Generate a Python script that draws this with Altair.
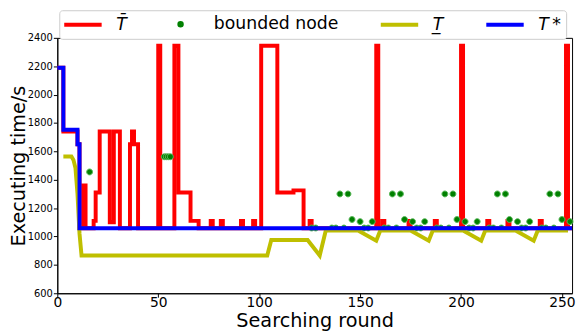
import altair as alt
import pandas as pd

# ---------------- data ----------------
series_names = ["T\u0304", "bounded node", "T\u0332", "T\u2009*"]
series_colors = ["#ff0000", "#008000", "#bfbf00", "#0000ff"]

# upper bound T-bar (value holds until the next listed round)
red_round = [0, 3, 10, 11, 13, 14, 18, 19, 21, 26, 28, 31, 36, 37, 38, 40, 50, 51, 58, 60,
             66, 70, 76, 77, 81, 82, 91, 92, 97, 98, 101, 109, 117, 122, 125, 126, 158, 159, 161, 162,
             174, 175, 187, 188, 200, 201, 213, 214, 223, 224, 239, 240, 252, 253, 255]
red_time = [2190, 1740, 1650, 1058, 1360, 1058, 1110, 1310, 1740, 1100, 1740, 1058, 1650, 1740, 1650, 1058, 2345, 1058, 2345, 1310,
            1110, 1058, 1110, 1058, 1110, 1058, 1110, 1058, 1110, 1058, 2345, 1310, 1325, 1058, 1110, 1058, 2345, 1058, 1110, 1058,
            1110, 1058, 1110, 1058, 2345, 1058, 1110, 1058, 1110, 1058, 1110, 1058, 2345, 1058, 1058]

# best found T* (value holds until the next listed round)
blue_round = [0, 3, 10, 11, 255]
blue_time = [2190, 1752, 1650, 1058, 1058]

# lower bound T-underline
yellow_round = [3, 7, 8, 9, 10, 11, 12, 104, 106, 124, 130, 133, 149, 158, 160,
                175, 184, 186, 201, 210, 212, 227, 236, 238, 253]
yellow_time = [1564, 1564, 1540, 1483, 1300, 1020, 866, 866, 975, 975, 866, 1042, 1042, 970, 1042,
               1042, 970, 1042, 1042, 970, 1042, 1042, 970, 1042, 1042]

# bounded nodes
bn_round = [16, 53, 54, 55, 56,
            126, 128, 136, 138, 140, 142, 144, 146, 150, 152, 154, 156,
            162, 164, 166, 168, 170, 172, 176, 178, 180, 182,
            188, 190, 192, 194, 196, 198, 202, 204, 206, 208,
            214, 216, 218, 220, 222, 224, 228, 230, 232, 234,
            240, 242, 244, 246, 248, 250, 254]
bn_time = [1455, 1562, 1562, 1562, 1562,
           1060, 1060, 1060, 1060, 1300, 1060, 1300, 1120, 1105, 1060, 1060, 1105,
           1060, 1060, 1300, 1060, 1300, 1120, 1105, 1060, 1060, 1105,
           1060, 1060, 1300, 1060, 1300, 1120, 1105, 1060, 1060, 1105,
           1060, 1060, 1300, 1060, 1300, 1120, 1105, 1060, 1060, 1105,
           1060, 1060, 1300, 1060, 1300, 1120, 1105]

x_ticks = [0, 50, 100, 150, 200, 250]
y_ticks = [600, 800, 1000, 1200, 1400, 1600, 1800, 2000, 2200, 2400]

# ---------------- tables ----------------
red_df = pd.DataFrame({"round": red_round, "time": red_time, "series": series_names[0]})
bn_df = pd.DataFrame({"round": bn_round, "time": bn_time, "series": series_names[1]})
yel_df = pd.DataFrame({"round": yellow_round, "time": yellow_time, "series": series_names[2]})
blue_df = pd.DataFrame({"round": blue_round, "time": blue_time, "series": series_names[3]})

LINE_PATH = "M-3,0L3,0"
DOT_PATH = "M-0.2,0A0.2,0.2,0,1,1,0.2,0A0.2,0.2,0,1,1,-0.2,0Z"

leg = alt.Legend(
    title=None, orient="none", legendX=2, legendY=-28, direction="horizontal", columns=4,
    symbolSize=160, symbolStrokeWidth=4, symbolOffset=10.25, labelOffset=25,
    columnPadding=35, padding=5, strokeColor="#cccccc", fillColor="white", cornerRadius=3,
    labelFont="DejaVu Sans", labelFontSize=17.5, labelColor="black", labelLimit=300,
    labelFontStyle={"expr": "datum.label == 'bounded node' ? 'normal' : 'italic'"},
)

color_enc = alt.Color("series:N", scale=alt.Scale(domain=series_names, range=series_colors), legend=leg)
shape_enc = alt.Shape("series:N", scale=alt.Scale(domain=series_names,
                                                  range=[LINE_PATH, DOT_PATH, LINE_PATH, LINE_PATH]), legend=leg)

x_enc = alt.X("round:Q", scale=alt.Scale(domain=[0, 255], nice=False, zero=False),
              axis=alt.Axis(values=x_ticks, title="Searching round", labelFontSize=14, titleFontSize=19.5,
                            labelFlush=False, labelPadding=-2, titleY=34, titleBaseline="alphabetic"))
y_enc = alt.Y("time:Q", scale=alt.Scale(domain=[600, 2400], nice=False, zero=False),
              axis=alt.Axis(values=y_ticks, format="d", title="Executing time/s", labelFontSize=10,
                            labelPadding=1, titleFontSize=19.5, titleX=-33, titleBaseline="alphabetic"))

red = alt.Chart(red_df).mark_line(interpolate="step-after", strokeWidth=4).encode(
    x=x_enc, y=y_enc, color=color_enc)
dots = alt.Chart(bn_df).mark_point(filled=True, size=900, opacity=1, stroke="#5cb85c", strokeWidth=1).encode(
    x=x_enc, y=y_enc, color=color_enc, shape=shape_enc)
yel = alt.Chart(yel_df).mark_line(strokeWidth=4).encode(x=x_enc, y=y_enc, color=color_enc)
blue = alt.Chart(blue_df).mark_line(interpolate="step-after", strokeWidth=4).encode(
    x=x_enc, y=y_enc, color=color_enc)

chart = alt.layer(red, dots, yel, blue).properties(
    width=522, height=259,
    autosize=alt.AutoSizeParams(type="none"),
    padding={"left": 50, "top": 28, "right": 4, "bottom": 37},
).configure(font="DejaVu Sans").configure_view(
    stroke="black", strokeWidth=1
).configure_axis(
    domainColor="black", tickColor="black", labelColor="black", titleColor="black",
    grid=False, titleFontWeight="normal", tickSize=4, domainWidth=1, tickWidth=1,
)

chart.save("out.html", embed_options={"renderer": "svg", "actions": False})
